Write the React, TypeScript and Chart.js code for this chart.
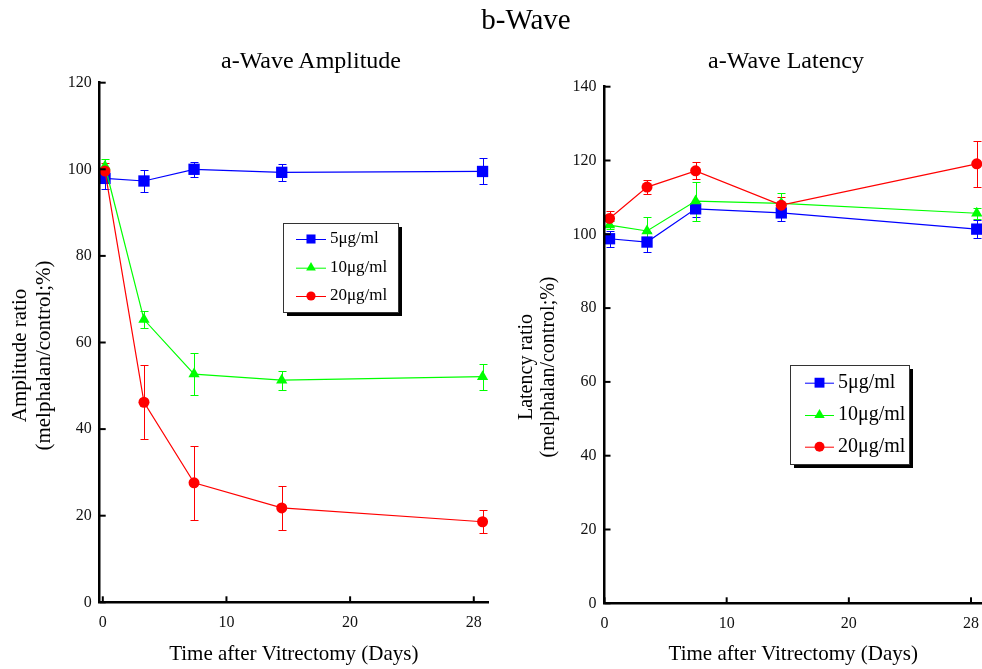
import React, { useEffect, useRef } from 'react';
import { Chart, registerables } from 'chart.js';

Chart.register(...registerables);

const FONT = "'Liberation Serif', 'Times New Roman', Times, serif";

// ---- data ----
const seriesLabels = ['5μg/ml', '10μg/ml', '20μg/ml'];
const seriesColors = ['#0000ff', '#00ff00', '#ff0000'];
const seriesShapes = ['rect', 'triangle', 'circle'];

const xTickValues = [0, 10, 20, 30];
const xTickLabels = ['0', '10', '20', '28'];

const ampDays = [0.18, 3.33, 7.38, 14.47, 30.71];
const amp5 = [97.9, 97.3, 100.0, 99.3, 99.5];
const amp5Err = [2.5, 2.6, 1.8, 2.0, 3.0];
const amp10 = [100.7, 65.3, 52.7, 51.3, 52.1];
const amp10Err = [1.6, 2.0, 4.8, 2.2, 3.0];
const amp20 = [99.6, 46.2, 27.6, 21.8, 18.6];
const amp20Err = [1.8, 8.6, 8.5, 5.1, 2.7];

const latDays = [0.41, 3.48, 7.46, 14.47, 30.47];
const lat5 = [98.8, 97.9, 106.9, 105.8, 101.4];
const lat5Err = [2.2, 2.8, 2.2, 2.2, 2.4];
const lat10 = [102.5, 100.9, 109.0, 108.4, 105.7];
const lat10Err = [1.0, 3.8, 5.3, 2.7, 1.5];
const lat20 = [104.3, 112.8, 117.2, 107.9, 119.1];
const lat20Err = [2.0, 1.9, 2.3, 2.3, 6.3];

// ---- plugins ----
function drawShape(ctx: CanvasRenderingContext2D, shape: string, x: number, y: number, r: number) {
  ctx.beginPath();
  if (shape === 'rect') {
    const s = r * Math.SQRT1_2;
    ctx.rect(x - s, y - s, 2 * s, 2 * s);
  } else if (shape === 'triangle') {
    const h = r * 1.5;
    const w = r * Math.sqrt(3) / 2;
    ctx.moveTo(x, y - r);
    ctx.lineTo(x + w, y - r + h);
    ctx.lineTo(x - w, y - r + h);
    ctx.closePath();
  } else {
    ctx.arc(x, y, r, 0, Math.PI * 2);
  }
  ctx.fill();
}

const errorBarPlugin = {
  id: 'errorBars',
  beforeDatasetsDraw(chart: any) {
    const ctx = chart.ctx;
    const ys = chart.scales.y;
    chart.data.datasets.forEach((ds: any, i: number) => {
      const meta = chart.getDatasetMeta(i);
      ctx.save();
      ctx.strokeStyle = ds.borderColor;
      ctx.lineWidth = 1;
      meta.data.forEach((pt: any, j: number) => {
        const v = ds.data[j].y;
        const e = ds.errors[j];
        const px = Math.round(pt.x) + 0.5;
        const top = Math.round(ys.getPixelForValue(v + e)) + 0.5;
        const bot = Math.round(ys.getPixelForValue(v - e)) + 0.5;
        ctx.beginPath();
        ctx.moveTo(px, top);
        ctx.lineTo(px, bot);
        ctx.moveTo(px - 4, top);
        ctx.lineTo(px + 4, top);
        ctx.moveTo(px - 4, bot);
        ctx.lineTo(px + 4, bot);
        ctx.stroke();
      });
      ctx.restore();
    });
  },
};

// Shifts the y-axis title centre (centred on the scale's top/bottom) while it is drawn,
// and restores the scale before the border layer (z > 0) is drawn. Also draws inward ticks.
const axisDecorPlugin = {
  id: 'axisDecor',
  afterLayout(chart: any, _args: any, opts: any) {
    const ys = chart.scales.y;
    ys.$shift = (opts && opts.titleShift) || 0;
    ys.bottom += ys.$shift * 2;
  },
  beforeDatasetsDraw(chart: any) {
    const ys = chart.scales.y;
    if (ys.$shift) {
      ys.bottom -= ys.$shift * 2;
      ys.$shift = 0;
    }
  },
  afterDraw(chart: any) {
    const { ctx, chartArea } = chart;
    const xs = chart.scales.x;
    const ys = chart.scales.y;
    ctx.save();
    ctx.strokeStyle = '#000';
    ctx.lineWidth = 2;
    ys.ticks.forEach((t: any) => {
      const py = ys.getPixelForValue(t.value);
      ctx.beginPath();
      ctx.moveTo(chartArea.left, py);
      ctx.lineTo(chartArea.left + 6, py);
      ctx.stroke();
    });
    xs.ticks.forEach((t: any) => {
      const px = xs.getPixelForValue(t.value);
      ctx.beginPath();
      ctx.moveTo(px, chartArea.bottom);
      ctx.lineTo(px, chartArea.bottom - 6);
      ctx.stroke();
    });
    ctx.restore();
  },
};

const boxLegendPlugin = {
  id: 'boxLegend',
  afterDraw(chart: any, _args: any, opts: any) {
    const ctx = chart.ctx;
    const { x, y, w, h, rows, lineX0, lineX1, textX, fontSize, markerR } = opts;
    ctx.save();
    ctx.fillStyle = '#000';
    ctx.fillRect(x + 4, y + 4, w, h);
    ctx.fillStyle = '#fff';
    ctx.fillRect(x, y, w, h);
    ctx.strokeStyle = '#333';
    ctx.lineWidth = 1;
    ctx.strokeRect(x + 0.5, y + 0.5, w, h);
    seriesLabels.forEach((lab, i) => {
      const ry = y + rows[i];
      ctx.strokeStyle = seriesColors[i];
      ctx.lineWidth = 1;
      ctx.beginPath();
      ctx.moveTo(x + lineX0, ry + 0.5);
      ctx.lineTo(x + lineX1, ry + 0.5);
      ctx.stroke();
      ctx.fillStyle = seriesColors[i];
      drawShape(ctx, seriesShapes[i], x + (lineX0 + lineX1) / 2, ry, markerR[i]);
      ctx.fillStyle = '#000';
      ctx.font = `${fontSize}px ${FONT}`;
      ctx.textBaseline = 'middle';
      ctx.textAlign = 'left';
      ctx.fillText(lab, x + textX, ry);
    });
    ctx.restore();
  },
};

// ---- panel config ----
type PanelCfg = {
  left: number;
  width: number;
  days: number[];
  series: number[][];
  errors: number[][];
  xMin: number;
  xMax: number;
  yMax: number;
  padTop: number;
  padRight: number;
  yWidth: number;
  xHeight: number;
  yTitle: string[];
  yTitleSize: number;
  yTitleLH: number;
  yTitlePad: number;
  yTitleShift: number;
  legend: any;
};

const pointRadii = [8, 6.5, 5.5];

function buildConfig(c: PanelCfg): any {
  const datasets = c.series.map((vals, i) => ({
    label: seriesLabels[i],
    data: c.days.map((d, j) => ({ x: d, y: vals[j] })),
    errors: c.errors[i],
    borderColor: seriesColors[i],
    backgroundColor: seriesColors[i],
    pointBackgroundColor: seriesColors[i],
    pointStyle: seriesShapes[i],
    pointRadius: pointRadii[i],
    pointBorderWidth: 0,
    borderWidth: 1.2,
    tension: 0,
    clip: false,
    order: 3 - i,
  }));
  return {
    type: 'line',
    data: { datasets },
    plugins: [errorBarPlugin, axisDecorPlugin, boxLegendPlugin],
    options: {
      responsive: false,
      animation: false,
      devicePixelRatio: 1,
      layout: { autoPadding: false, padding: { top: c.padTop, right: c.padRight, left: 0, bottom: 0 } },
      plugins: {
        legend: { display: false },
        tooltip: { enabled: false },
        title: { display: false },
        boxLegend: c.legend,
        axisDecor: { titleShift: c.yTitleShift },
      },
      scales: {
        x: {
          type: 'linear',
          min: c.xMin,
          max: c.xMax,
          afterBuildTicks: (scale: any) => {
            scale.ticks = xTickValues.map((v) => ({ value: v }));
          },
          afterFit: (scale: any) => {
            scale.height = c.xHeight;
            scale.paddingLeft = 0;
            scale.paddingRight = 0;
          },
          grid: { display: false, drawTicks: false },
          border: { display: true, color: '#000', width: 2.5, z: 1 },
          ticks: {
            padding: 11,
            color: '#111',
            font: { family: FONT, size: 16 },
            maxRotation: 0,
            autoSkip: false,
            callback: (v: number) => {
              const k = xTickValues.indexOf(v);
              return k >= 0 ? xTickLabels[k] : '';
            },
          },
          title: {
            display: true,
            text: 'Time after Vitrectomy (Days)',
            color: '#000',
            font: { family: FONT, size: 21, lineHeight: 1.15 },
            padding: { top: 0, bottom: 2 },
          },
        },
        y: {
          type: 'linear',
          min: 0,
          max: c.yMax,
          afterFit: (scale: any) => {
            scale.width = c.yWidth;
            scale.paddingTop = 0;
            scale.paddingBottom = 0;
          },
          grid: { display: false, drawTicks: false },
          border: { display: true, color: '#000', width: 2.5, z: 1 },
          ticks: {
            stepSize: 20,
            padding: 8,
            color: '#111',
            font: { family: FONT, size: 16 },
          },
          title: {
            display: true,
            text: c.yTitle,
            color: '#000',
            font: { family: FONT, size: c.yTitleSize, lineHeight: c.yTitleLH },
            padding: { top: c.yTitlePad, bottom: 0 },
          },
        },
      },
    },
  };
}

const leftPanel: PanelCfg = {
  left: 0,
  width: 491,
  days: ampDays,
  series: [amp5, amp10, amp20],
  errors: [amp5Err, amp10Err, amp20Err],
  xMin: -0.25,
  xMax: 31.15,
  yMax: 120,
  padTop: 82.7,
  padRight: 3,
  yWidth: 99.7,
  xHeight: 66.7,
  yTitle: ['Amplitude ratio', '(melphalan/control;%)'],
  yTitleSize: 21,
  yTitleLH: 1.15,
  yTitlePad: 8.5,
  yTitleShift: 13,
  legend: {
    x: 283,
    y: 223,
    w: 115,
    h: 89,
    rows: [16, 44.7, 73],
    lineX0: 13,
    lineX1: 43,
    textX: 47,
    fontSize: 17,
    markerR: [6.4, 5.6, 4.6],
  },
};

const rightPanel: PanelCfg = {
  left: 491,
  width: 491,
  days: latDays,
  series: [lat5, lat10, lat20],
  errors: [lat5Err, lat10Err, lat20Err],
  xMin: 0,
  xMax: 30.9,
  yMax: 140,
  padTop: 86.7,
  padRight: 0,
  yWidth: 113.5,
  xHeight: 65.7,
  yTitle: ['Latency ratio', '(melphalan/control;%)'],
  yTitleSize: 20,
  yTitleLH: 1.1,
  yTitlePad: 25,
  yTitleShift: 22,
  legend: {
    x: 299,
    y: 365,
    w: 119,
    h: 99,
    rows: [17.7, 50, 81.7],
    lineX0: 15,
    lineX1: 44,
    textX: 48,
    fontSize: 20,
    markerR: [7, 6, 5],
  },
};

function Panel({ cfg }: { cfg: PanelCfg }) {
  const ref = useRef<HTMLCanvasElement | null>(null);
  useEffect(() => {
    if (!ref.current) return;
    const chart = new Chart(ref.current, buildConfig(cfg));
    return () => chart.destroy();
  }, [cfg]);
  return (
    <canvas
      ref={ref}
      width={cfg.width}
      height={669}
      style={{ position: 'absolute', left: cfg.left, top: 0, width: cfg.width, height: 669 }}
    />
  );
}

const textStyle: React.CSSProperties = {
  position: 'absolute',
  fontFamily: FONT,
  color: '#000',
  textAlign: 'center',
  whiteSpace: 'nowrap',
};

export default function App() {
  return (
    <div style={{ position: 'absolute', left: 0, top: 0, width: 982, height: 669, background: '#fff', overflow: 'hidden' }}>
      <Panel cfg={leftPanel} />
      <Panel cfg={rightPanel} />
      <div style={{ ...textStyle, left: 426, width: 200, top: 5, fontSize: 29, lineHeight: '29px' }}>b-Wave</div>
      <div style={{ ...textStyle, left: 161, width: 300, top: 47, fontSize: 24, lineHeight: '26px' }}>a-Wave Amplitude</div>
      <div style={{ ...textStyle, left: 636, width: 300, top: 47, fontSize: 24, lineHeight: '26px' }}>a-Wave Latency</div>
    </div>
  );
}
